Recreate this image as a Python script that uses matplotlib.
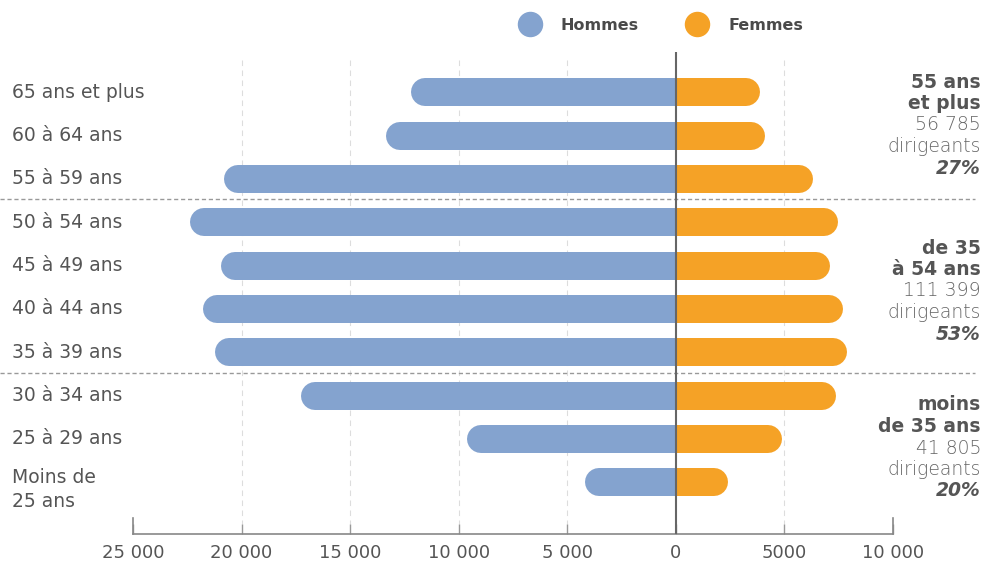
import matplotlib
matplotlib.use('Agg')
import matplotlib.pyplot as plt
from matplotlib.patches import Rectangle
from matplotlib.transforms import blended_transform_factory

plt.rcParams['font.family'] = ['DejaVu Sans']

# data
ages = ['65 ans et plus', '60 à 64 ans', '55 à 59 ans', '50 à 54 ans', '45 à 49 ans',
        '40 à 44 ans', '35 à 39 ans', '30 à 34 ans', '25 à 29 ans', 'Moins de\n25 ans']
hommes = [11550, 12700, 20150, 21750, 20300, 21150, 20600, 16600, 8980, 3550]
femmes = [3230, 3450, 5650, 6820, 6450, 7050, 7230, 6730, 4240, 1750]
xticks = [-25000, -20000, -15000, -10000, -5000, 0, 5000, 10000]
xticklabels = ['25 000', '20 000', '15 000', '10 000', '5 000', '0', '5000', '10 000']
groups = [
    ('55 ans', 'et plus', '56 785', '27%'),
    ('de 35', 'à 54 ans', '111 399', '53%'),
    ('moins', 'de 35 ans', '41 805', '20%'),
]
group_tops = [82, 248, 405]   # pixel y of first line

blue = '#84a3cf'
orange = '#f5a226'
grey_txt = '#555555'

W, H = 984, 565
fig = plt.figure(figsize=(W / 100, H / 100), dpi=100)
ax = fig.add_axes([133 / W, 1 - 534 / H, 760 / W, (534 - 52) / H])

y0, step = 92.3, 43.33
ybot = (534 - y0) / step
ytop = (52 - y0) / step
ax.set_xlim(-25000, 10000)
ax.set_ylim(ybot, ytop)

# bars with round ends, cut square at zero
lw = 28 * 72 / 100
left_clip = Rectangle((-30000, -5), 30000, 20, transform=ax.transData)
right_clip = Rectangle((0, -5), 30000, 20, transform=ax.transData)
for i in range(len(ages)):
    l1, = ax.plot([0, -hommes[i]], [i, i], color=blue, lw=lw, solid_capstyle='round', zorder=3)
    l1.set_clip_path(left_clip)
    l2, = ax.plot([0, femmes[i]], [i, i], color=orange, lw=lw, solid_capstyle='round', zorder=3)
    l2.set_clip_path(right_clip)

# grid
gtop = (60 - y0) / step
gbot = (524 - y0) / step
ax.vlines([-20000, -15000, -10000, -5000, 5000], gtop, gbot, colors='#dddddd',
          linestyles=(0, (5, 4)), lw=0.8, zorder=1)
ax.axvline(0, color='#666666', lw=1.5, zorder=4)

ax.spines['top'].set_visible(False)
ax.spines['bottom'].set_color('#888888')
ax.spines['bottom'].set_linewidth(1.2)
for s in ['left', 'right']:
    ax.spines[s].set_color('#888888')
    ax.spines[s].set_linewidth(1.2)
    ax.spines[s].set_bounds(ybot, ybot - 16 / step)

ax.set_xticks(xticks)
ax.set_xticklabels(xticklabels)
ax.tick_params(axis='x', direction='in', length=7, width=1, color='#999999',
               pad=7, labelsize=13, labelcolor=grey_txt)
ax.set_yticks([])

# separators
tr = blended_transform_factory(fig.transFigure, ax.transData)
for yy in [2.47, 6.48]:
    ax.plot([0, 975 / W], [yy, yy], transform=tr, color='#999999', lw=1,
            linestyle=(0, (3, 2)), clip_on=False, zorder=2)

# age labels
for i, lab in enumerate(ages):
    dy = 0.17 if '\n' in lab else 0
    ax.text(12 / W, i + dy, lab, transform=tr, ha='left', va='center', fontsize=13.5,
            color=grey_txt, linespacing=1.35)

# legend
ax.scatter([530 / W], [1 - 24 / H], s=300, color=blue, transform=fig.transFigure, clip_on=False)
ax.scatter([697 / W], [1 - 24 / H], s=300, color=orange, transform=fig.transFigure, clip_on=False)
fig.text(561 / W, 1 - 25 / H, 'Hommes', ha='left', va='center', fontsize=11.5,
         fontweight='bold', color='#4a4a4a')
fig.text(728 / W, 1 - 25 / H, 'Femmes', ha='left', va='center', fontsize=11.5,
         fontweight='bold', color='#4a4a4a')

# group annotations
for (a, b, n, p), top in zip(groups, group_tops):
    lines = [(a, 'bold', 'normal', '#555555'), (b, 'bold', 'normal', '#555555'),
             (n, 'light', 'normal', '#666666'), ('dirigeants', 'light', 'normal', '#666666'),
             (p, 'bold', 'italic', '#555555')]
    for k, (t, w, st, c) in enumerate(lines):
        fig.text(981 / W, 1 - (top + 21.5 * k) / H, t, ha='right', va='center', fontsize=13.5,
                 fontweight=w, fontstyle=st, color=c)

fig.savefig('out.png', dpi=100)
